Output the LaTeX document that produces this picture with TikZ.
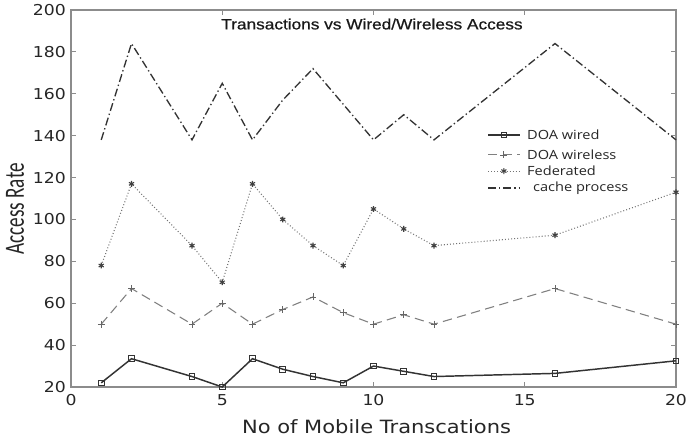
\documentclass[tikz,border=0pt]{standalone}
\usepackage{fontspec}
\usepackage{graphicx}
\usetikzlibrary{plotmarks}
\newfontfamily\tickfont{DejaVu Sans}
\newfontfamily\titlefont[FakeBold=0.6]{Liberation Sans}
\newfontfamily\legfont{Open Sans}
\newfontfamily\ylabfont{Carlito}
% text in this chart is set slightly wide
\newcommand\widen[1]{\scalebox{1.15}[1]{#1}}

\begin{document}
\begin{tikzpicture}[x=22.6875pt,y=1.5708pt,
  frame/.style={draw=black!45, line width=0.8pt},
  ticklab/.style={font=\tickfont\fontsize{11.25}{13}\selectfont, text=black!85, inner sep=0pt},
  leglab/.style={font=\legfont\fontsize{9.5}{11}\selectfont, text=black!85, inner sep=0pt, anchor=west},
  wired/.style={draw=black!80, line width=1.1pt, mark=square, mark size=2.1pt,
                mark options={solid, line width=0.7pt, draw=black!80}},
  wireless/.style={draw=black!50, line width=0.8pt, dash pattern=on 7pt off 4pt,
                mark=+, mark size=2.6pt, mark options={solid, line width=0.6pt, draw=black!60}},
  federated/.style={draw=black!55, line width=0.8pt, dash pattern=on 0.7pt off 1.6pt,
                mark=asterisk, mark size=2.2pt, mark options={solid, line width=0.8pt, draw=black!75}},
  cache/.style={draw=black!80, line width=1pt, dash pattern=on 6pt off 2.2pt on 1pt off 2.2pt}
]
\useasboundingbox (-2.347,-5.31) rectangle (20.331,204.78);
\fill[white] (-2.347,-5.31) rectangle (20.331,204.78);

% axes frame and inward ticks
\draw[frame] (0,20) rectangle (20,200);
\foreach \v in {40,60,...,180} {
  \draw[frame] (0,\v) -- (0.165,\v);
  \draw[frame] (20,\v) -- (19.835,\v);
}
\foreach \u in {5,10,15} {
  \draw[frame] (\u,20) -- (\u,22.4);
  \draw[frame] (\u,200) -- (\u,197.6);
}

% tick labels
\foreach \v in {20,40,...,200}
  \node[ticklab, anchor=east] (yl\v) at (-0.165,\v) {\widen{\v}};
\foreach \u in {0,5,10,15,20}
  \node[ticklab, anchor=north] (xl\u) at (\u,16.4) {\widen{\u}};

% titles
\node[font=\titlefont\fontsize{11.25}{13}\selectfont, text=black!90] (title) at (9.95,193.3)
  {\widen{Transactions vs Wired/Wireless Access}};
\node[font=\tickfont\fontsize{13.7}{16}\selectfont, text=black!85] (xlab) at (10.1,0.9)
  {\widen{No of Mobile Transcations}};
\node[font=\ylabfont\fontsize{14.4}{17}\selectfont, text=black!85, rotate=90] (ylab) at (-1.85,105)
  {\scalebox{1}[1.45]{Access Rate}};

% data series
\draw[cache] plot coordinates {(1,138) (2,184) (4,138) (5,165) (6,138) (7,157) (8,172)
  (10,138) (11,150) (12,138) (16,184) (20,138)};
\draw[federated] plot coordinates {(1,78) (2,117) (4,87.5) (5,70) (6,117) (7,100) (8,87.5)
  (9,78) (10,105) (11,95.5) (12,87.5) (16,92.5) (20,113)};
\draw[wireless] plot coordinates {(1,50) (2,67) (4,50) (5,60) (6,50) (7,57) (8,63)
  (9,55.5) (10,50) (11,54.5) (12,50) (16,67) (20,50)};
\draw[wired] plot coordinates {(1,22) (2,33.5) (4,25) (5,20) (6,33.5) (7,28.5) (8,25)
  (9,22) (10,30) (11,27.5) (12,25) (16,26.5) (20,32.5)};

% legend: sample line, one mark in its middle, label
\draw[wired] (13.79,140.3) -- (14.84,140.3);
\draw[wired] plot[only marks] coordinates {(14.31,140.3)};
\draw[wireless] (13.79,130.8) -- (14.84,130.8);
\draw[wireless] plot[only marks] coordinates {(14.31,130.8)};
\draw[federated] (13.79,123.1) -- (14.84,123.1);
\draw[federated] plot[only marks] coordinates {(14.31,123.1)};
\draw[cache] (13.79,115) -- (14.84,115);
\node[leglab] (l1) at (15.07,140.3) {\widen{DOA wired}};
\node[leglab] (l2) at (15.07,130.8) {\widen{DOA wireless}};
\node[leglab] (l3) at (15.07,123.1) {\widen{Federated}};
\node[leglab] (l4) at (15.27,115) {\widen{cache process}};
\end{tikzpicture}
\end{document}
